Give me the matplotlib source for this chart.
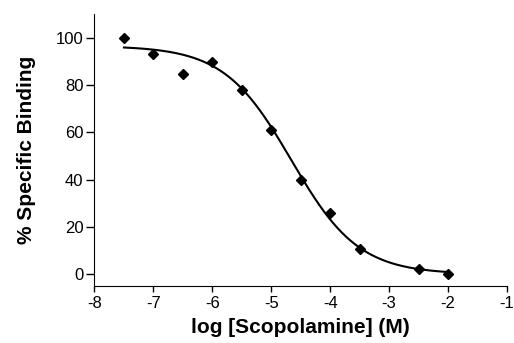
import numpy as np
import matplotlib
matplotlib.use('Agg')
import matplotlib.pyplot as plt

plt.rcParams['font.family'] = ['Liberation Sans', 'DejaVu Sans']
plt.rcParams['axes.unicode_minus'] = False

# data
log_conc = [-7.5, -7.0, -6.5, -6.0, -5.5, -5.0, -4.5, -4.0, -3.5, -2.5, -2.0]
binding = [100, 93, 84.5, 89.5, 78, 61, 40, 26, 10.5, 2, 0]

# fitted sigmoid parameters (estimated from the drawn curve)
top = 96.5
bottom = 0.0
log_ic50 = -4.66
hill = 0.76

fig = plt.figure(figsize=(5.14, 3.43), dpi=100)
ax = fig.add_axes([0.1838, 0.1662, 0.8025, 0.793])

xc = np.linspace(min(log_conc), max(log_conc), 300)
yc = bottom + (top - bottom) / (1 + 10 ** (hill * (xc - log_ic50)))
ax.plot(xc, yc, color='black', lw=1.5)
ax.plot(log_conc, binding, 'D', color='black', ms=5)

ax.set_xlim(-8, -1)
ax.set_ylim(-5, 110)
ax.set_xticks(range(-8, 0))
ax.set_yticks(range(0, 101, 20))
ax.spines['top'].set_visible(False)
ax.spines['right'].set_visible(False)
ax.tick_params(direction='out', width=1, labelsize=12, pad=2.5)
ax.tick_params(axis='y', length=5.5)
ax.tick_params(axis='x', length=4.5)
ax.set_xlabel('log [Scopolamine] (M)', fontsize=15, fontweight='bold', labelpad=5)
ax.set_ylabel('% Specific Binding', fontsize=15, fontweight='bold', labelpad=14)

fig.savefig('out.png', dpi=100)
